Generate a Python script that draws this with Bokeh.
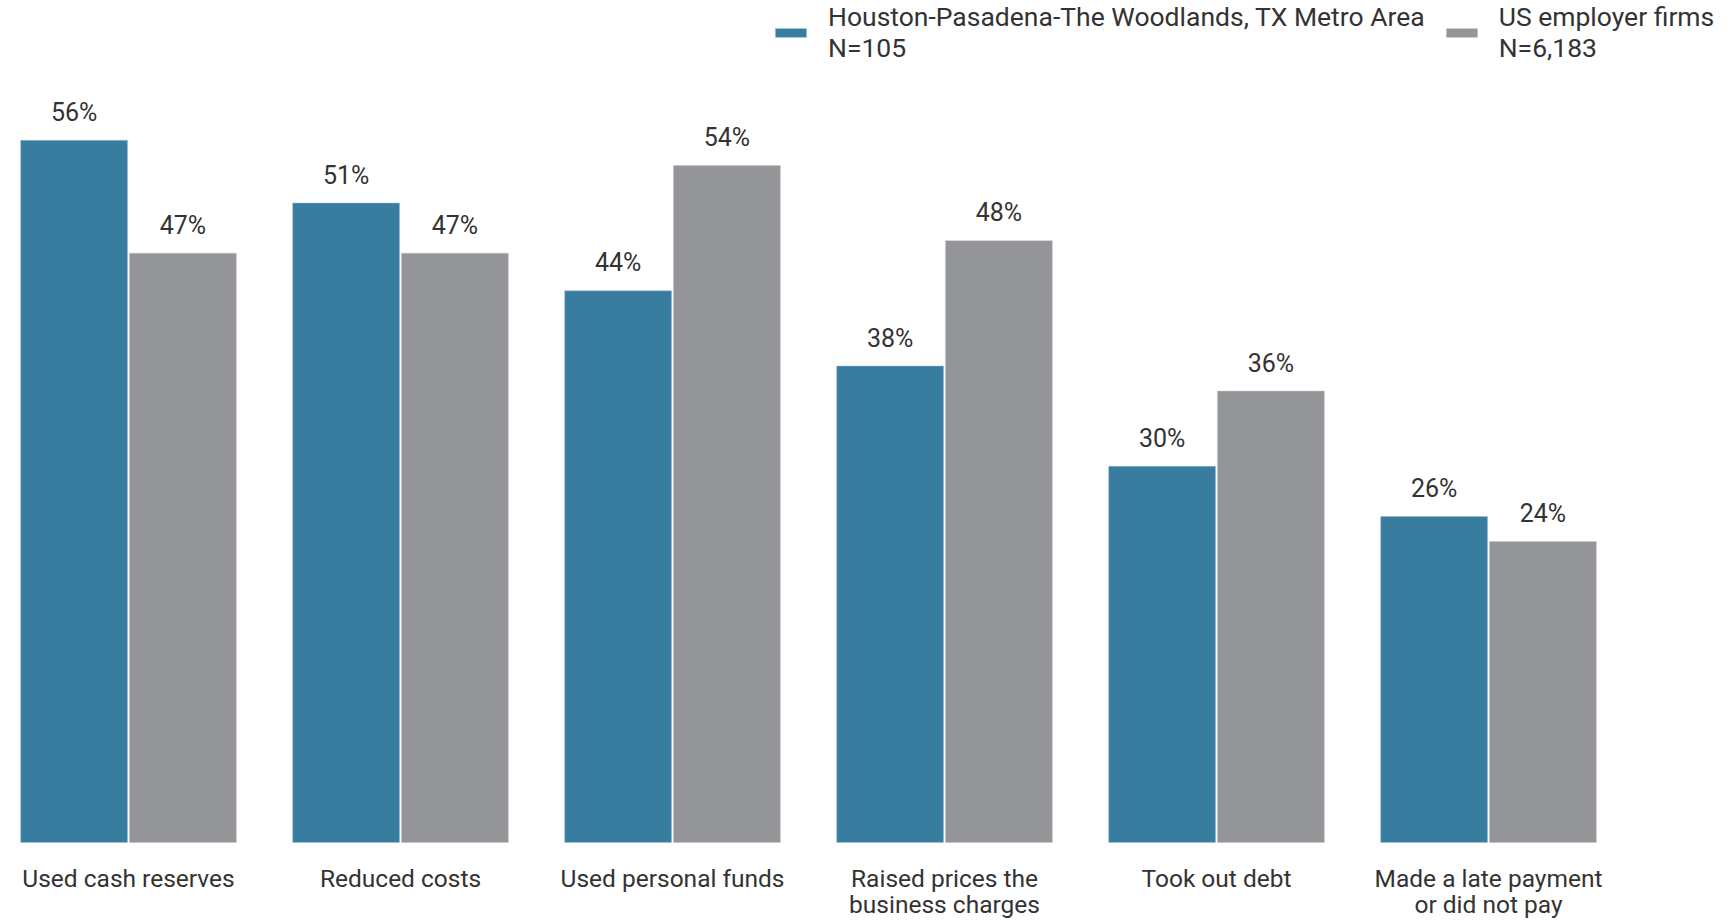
from bokeh.plotting import figure
from bokeh.models import Range1d, ColumnDataSource, Legend, LegendItem
from bokeh.core.properties import value
from bokeh.embed import file_html
from bokeh.resources import INLINE

categories = ["Used cash reserves", "Reduced costs", "Used personal funds",
              "Raised prices the\nbusiness charges", "Took out debt",
              "Made a late payment\nor did not pay"]
houston = [56, 51, 44, 38, 30, 26]
us_firms = [47, 47, 54, 48, 36, 24]
series_names = ["Houston-Pasadena-The Woodlands, TX Metro Area\nN=105",
                "US employer firms\nN=6,183"]

BLUE = "#387ca0"
GRAY = "#939598"
TXT = "#333333"
FONT = "Roboto"

idx = list(range(len(categories)))
src = ColumnDataSource(dict(
    x=idx,
    xb=[i - 0.2 for i in idx],
    xg=[i + 0.2 for i in idx],
    hou=houston,
    us=us_firms,
    hou_lbl=[f"{v}%" for v in houston],
    us_lbl=[f"{v}%" for v in us_firms],
    cat=categories,
    zero=[0] * len(idx),
))

p = figure(width=1732, height=920, output_backend="svg", toolbar_location=None,
           x_range=Range1d(-0.4706, 5.897), y_range=Range1d(-6.22, 67.15),
           x_axis_location=None, y_axis_location=None, min_border=0)
p.outline_line_color = None
p.grid.visible = False

r1 = p.vbar(x="xb", top="hou", width=0.393, source=src, fill_color=BLUE,
            line_color="#9fc0d2", line_width=0.5)
r2 = p.vbar(x="xg", top="us", width=0.393, source=src, fill_color=GRAY,
            line_color="#c4c5c7", line_width=0.5)

p.text(x="xb", y="hou", text="hou_lbl", source=src, text_align="center",
       text_baseline="middle", y_offset=-28, text_font=value(FONT),
       text_font_size="25px", text_color=TXT)
p.text(x="xg", y="us", text="us_lbl", source=src, text_align="center",
       text_baseline="middle", y_offset=-28, text_font=value(FONT),
       text_font_size="25px", text_color=TXT)

p.text(x="x", y="zero", text="cat", source=src, text_align="center",
       text_baseline="top", y_offset=21, text_font=value(FONT),
       text_font_size="24.5px", text_color=TXT, text_line_height=0.91)

legend = Legend(items=[LegendItem(label=series_names[0], renderers=[r1]),
                       LegendItem(label=series_names[1], renderers=[r2])],
                orientation="horizontal", location=(771, 857),
                label_text_font=FONT, label_text_font_size="26.5px",
                label_text_color=TXT, glyph_width=39, glyph_height=11,
                label_standoff=18, spacing=17, padding=0, margin=0,
                border_line_color=None, background_fill_alpha=0,
                label_text_line_height=0.82)
p.add_layout(legend, "center")

open("out.html", "w").write(file_html(p, INLINE))
